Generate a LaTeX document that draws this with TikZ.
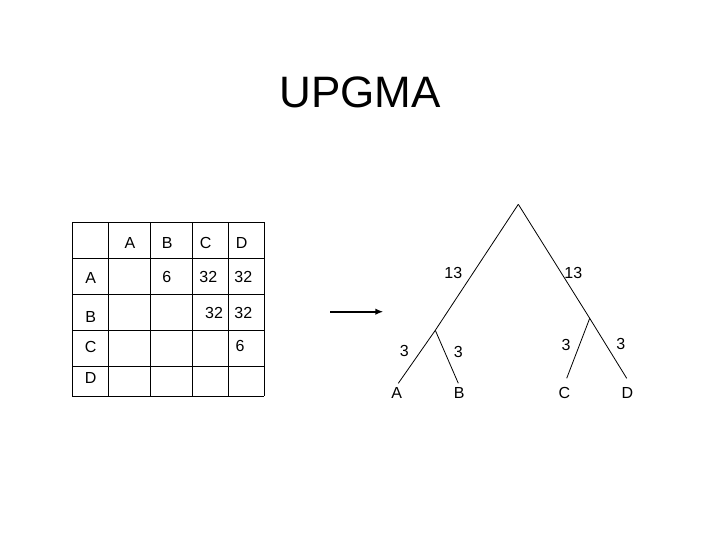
\documentclass[tikz,border=0pt]{standalone}
\usepackage{fontspec}
\setmainfont{Liberation Sans}
\usetikzlibrary{arrows.meta}

\begin{document}
\begin{tikzpicture}[x=1pt, y=-1pt,
    cell/.style={inner sep=0pt, font=\fontsize{16}{19}\selectfont},
    branch/.style={black, line width=0.8pt}]
            \useasboundingbox (0, 0) rectangle (720, 540);

            \node[inner sep=0pt, font=\fontsize{44}{53}\selectfont] (title) at (360, 92.5) {UPGMA};

            % distance table
            \foreach \gx in {72.3, 108.3, 150.3, 192.3, 228.3, 264}
                \draw[black, line width=0.8pt] (\gx, 222.3) -- (\gx, 396);
            \foreach \gy in {222.3, 258.3, 294.3, 330.7, 366.7, 396}
                \draw[black, line width=0.8pt] (72.3, \gy) -- (264, \gy);

            \node[cell] (hA) at (130, 243.3) {A};
            \node[cell] (hB) at (167.3, 242.7) {B};
            \node[cell] (hC) at (205.7, 243.3) {C};
            \node[cell] (hD) at (241.7, 243.3) {D};
            \node[cell] (rA) at (90.7, 278.3) {A};
            \node[cell] (rB) at (90.7, 316.7) {B};
            \node[cell] (rC) at (90.7, 346.7) {C};
            \node[cell] (rD) at (90.7, 378.3) {D};
            \node[cell] (dAB) at (166.7, 276.5) {6};
            \node[cell] (dAC) at (208.3, 276.5) {32};
            \node[cell] (dAD) at (243.3, 276.5) {32};
            \node[cell] (dBC) at (214, 312.7) {32};
            \node[cell] (dBD) at (243.3, 312.7) {32};
            \node[cell] (dCD) at (240, 346) {6};

            % arrow
            \coordinate (arrS) at (330, 311.7);
            \coordinate (arrE) at (383.3, 311.7);
            \draw[black, line width=2pt, -{Latex[length=8pt, width=6.5pt]}] (arrS) -- (arrE);

            % tree
            \coordinate (root) at (518.3, 204.3);
            \coordinate (nAB) at (435.3, 330.3);
            \coordinate (nCD) at (589.7, 318.3);
            \coordinate (eA) at (398.3, 383.3);
            \coordinate (eB) at (458.3, 383.3);
            \coordinate (eC) at (566.7, 378.3);
            \coordinate (eD) at (626.7, 378.3);

            \draw[branch] (root) -- (nAB);
            \draw[branch] (root) -- (nCD);
            \draw[branch] (nAB) -- (eA);
            \draw[branch] (nAB) -- (eB);
            \draw[branch] (nCD) -- (eC);
            \draw[branch] (nCD) -- (eD);

            \node[cell] (lA) at (396.7, 392.7) {A};
            \node[cell] (lB) at (459.3, 393.3) {B};
            \node[cell] (lC) at (564.3, 392.7) {C};
            \node[cell] (lD) at (627.3, 392.7) {D};

            \node[cell] (wL) at (453.3, 272.7) {13};
            \node[cell] (wR) at (573.3, 272.7) {13};
            \node[cell] (wA) at (404.3, 350.7) {3};
            \node[cell] (wB) at (458.3, 351.7) {3};
            \node[cell] (wC) at (566, 345) {3};
            \node[cell] (wD) at (620.7, 344.3) {3};

        \end{tikzpicture}
\end{document}
